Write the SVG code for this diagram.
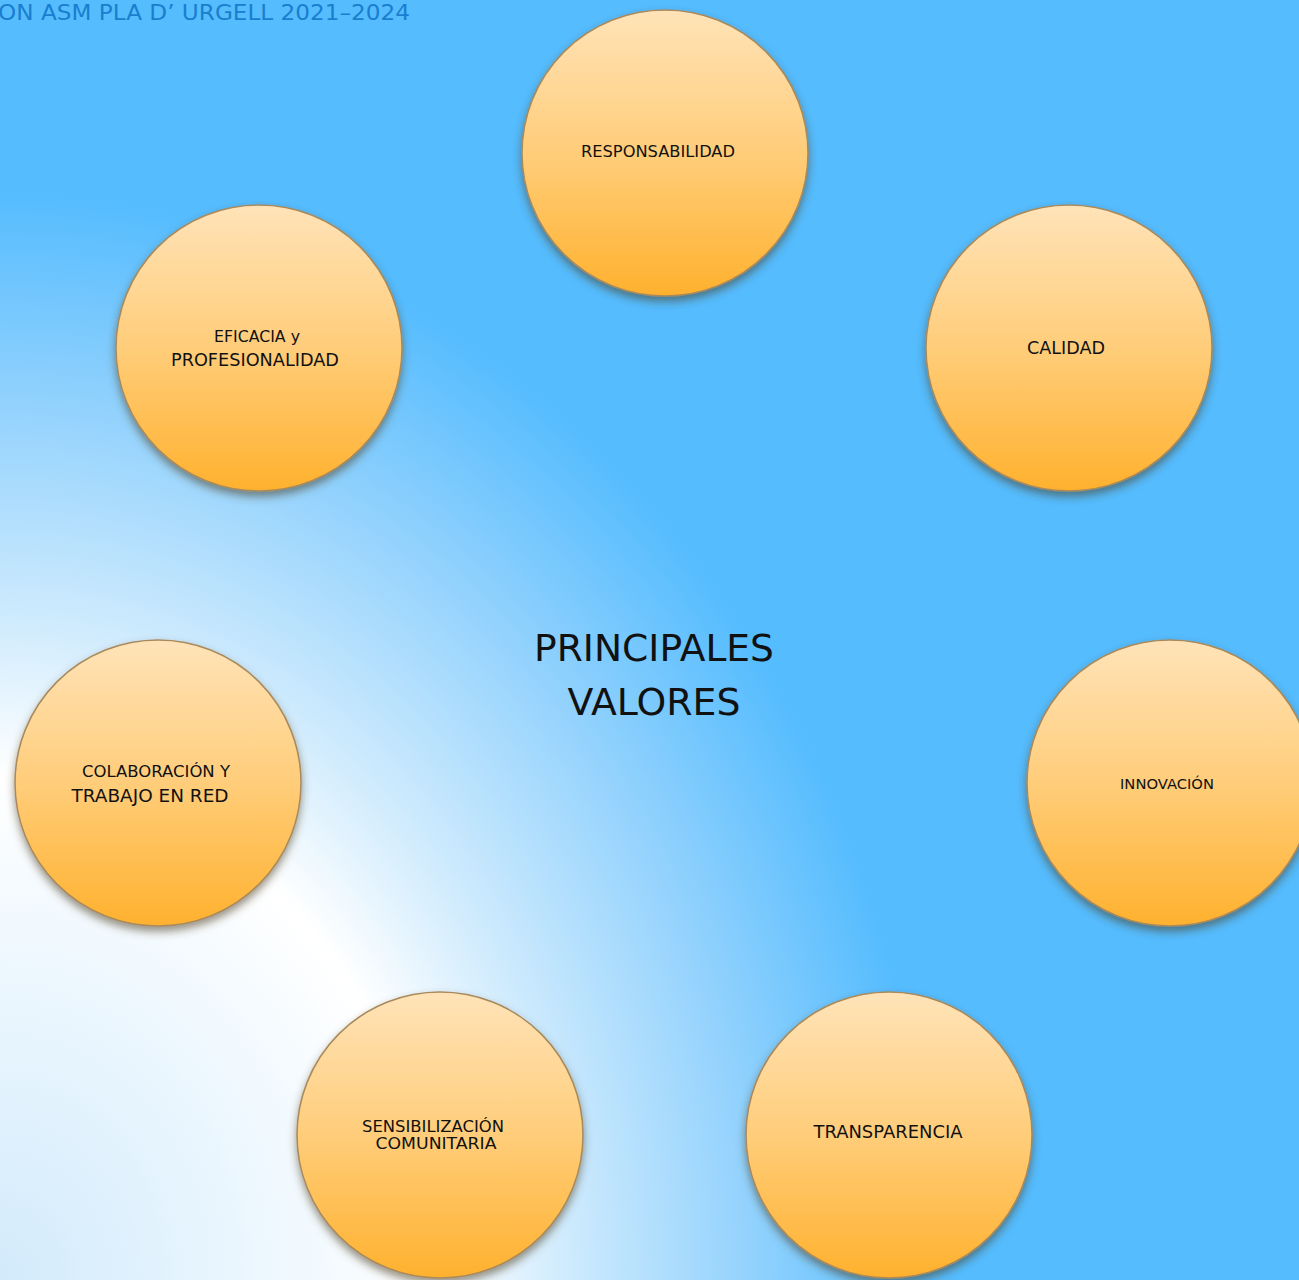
<svg xmlns="http://www.w3.org/2000/svg" width="1299" height="1280" viewBox="0 0 1299 1280">
<defs>
<radialGradient id="bg" cx="0" cy="0" r="1" gradientUnits="userSpaceOnUse" gradientTransform="translate(0 1280) scale(960 1120)">
<stop offset="0" stop-color="#d2eafb"/>
<stop offset="0.25" stop-color="#eaf6fe"/>
<stop offset="0.45" stop-color="#ffffff"/>
<stop offset="0.58" stop-color="#d2ecfd"/>
<stop offset="0.78" stop-color="#93d2fd"/>
<stop offset="0.97" stop-color="#55bcfe"/>
<stop offset="1" stop-color="#55bcfe"/>
</radialGradient>
<linearGradient id="orb" x1="0" y1="0" x2="0" y2="1">
<stop offset="0" stop-color="#ffe3b8"/>
<stop offset="0.5" stop-color="#ffcd7a"/>
<stop offset="1" stop-color="#ffb12e"/>
</linearGradient>
<filter id="sh" x="-20%" y="-20%" width="140%" height="150%">
<feDropShadow dx="0" dy="5" stdDeviation="4" flood-color="#4a3a20" flood-opacity="0.55"/>
</filter>
</defs>
<style>
.c{fill:url(#orb);stroke:#a88a5c;stroke-width:1.5;filter:url(#sh)}
.t{font-family:"DejaVu Sans","Liberation Sans",sans-serif;fill:#111;text-anchor:middle}
.h{font-family:"DejaVu Sans","Liberation Sans",sans-serif;fill:#1a7ecf;font-size:21px}
</style>
<rect width="1299" height="1280" fill="url(#bg)"/>
<text class="h" x="-2" y="20" textLength="412" lengthAdjust="spacingAndGlyphs">ON ASM PLA D’ URGELL 2021–2024</text>
<g id="center"><text class="t" x="654" y="661" font-size="37" textLength="240" lengthAdjust="spacingAndGlyphs">PRINCIPALES</text><text class="t" x="654" y="715" font-size="37" textLength="173" lengthAdjust="spacingAndGlyphs">VALORES</text></g>
<g id="connectors"></g>
<g id="responsabilidad"><circle class="c" cx="665" cy="153" r="143"/><text class="t" x="658" y="157" font-size="16" textLength="154" lengthAdjust="spacingAndGlyphs">RESPONSABILIDAD</text></g>
<g id="calidad"><circle class="c" cx="1069" cy="348" r="143"/><text class="t" x="1066" y="354" font-size="17" textLength="78" lengthAdjust="spacingAndGlyphs">CALIDAD</text></g>
<g id="eficacia"><circle class="c" cx="259" cy="348" r="143"/><text class="t" x="257" y="342" font-size="16" textLength="86" lengthAdjust="spacingAndGlyphs">EFICACIA y</text><text class="t" x="255" y="366" font-size="17" textLength="168" lengthAdjust="spacingAndGlyphs">PROFESIONALIDAD</text></g>
<g id="colaboracion"><circle class="c" cx="158" cy="783" r="143"/><text class="t" x="156" y="777" font-size="16" textLength="148" lengthAdjust="spacingAndGlyphs">COLABORACIÓN  Y</text><text class="t" x="150" y="802" font-size="18" textLength="157" lengthAdjust="spacingAndGlyphs">TRABAJO EN RED</text></g>
<g id="innovacion"><circle class="c" cx="1170" cy="783" r="143"/><text class="t" x="1167" y="789" font-size="14" textLength="94" lengthAdjust="spacingAndGlyphs">INNOVACIÓN</text></g>
<g id="sensibilizacion"><circle class="c" cx="440" cy="1135" r="143"/><text class="t" x="433" y="1132" font-size="16" textLength="142" lengthAdjust="spacingAndGlyphs">SENSIBILIZACIÓN</text><text class="t" x="436" y="1149" font-size="16" textLength="121" lengthAdjust="spacingAndGlyphs">COMUNITARIA</text></g>
<g id="transparencia"><circle class="c" cx="889" cy="1135" r="143"/><text class="t" x="888" y="1138" font-size="17" textLength="149" lengthAdjust="spacingAndGlyphs">TRANSPARENCIA</text></g>
</svg>
